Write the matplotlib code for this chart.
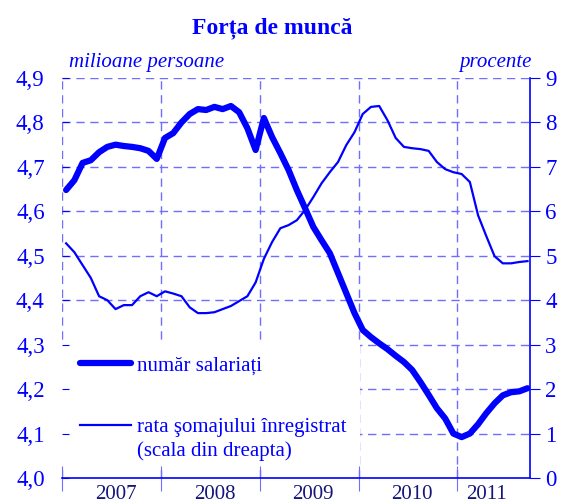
import matplotlib
matplotlib.use("Agg")
import matplotlib.pyplot as plt
import numpy as np
from matplotlib.ticker import FixedLocator, FuncFormatter, NullFormatter
from matplotlib.patches import Rectangle

# Monthly data, Jan 2007 .. Sep 2011
months = np.arange(57)
salariati = [4.648, 4.670, 4.709, 4.715, 4.733, 4.745, 4.750, 4.747, 4.745, 4.742,
             4.736, 4.718, 4.765, 4.776, 4.800, 4.819, 4.830, 4.828, 4.835, 4.830,
             4.837, 4.823, 4.787, 4.738, 4.810, 4.767, 4.731, 4.693, 4.648, 4.607,
             4.565, 4.535, 4.506, 4.461, 4.416, 4.371, 4.333, 4.317, 4.303, 4.290,
             4.275, 4.261, 4.243, 4.216, 4.187, 4.157, 4.134, 4.100, 4.092, 4.100,
             4.121, 4.146, 4.168, 4.186, 4.193, 4.195, 4.202]
somaj = [5.28, 5.08, 4.79, 4.50, 4.09, 4.00, 3.80, 3.89, 3.89, 4.09,
         4.18, 4.09, 4.20, 4.15, 4.09, 3.84, 3.71, 3.71, 3.73, 3.80,
         3.87, 3.98, 4.09, 4.40, 4.93, 5.31, 5.62, 5.69, 5.80, 6.03,
         6.32, 6.63, 6.88, 7.11, 7.49, 7.78, 8.19, 8.35, 8.37, 8.05,
         7.65, 7.45, 7.42, 7.40, 7.36, 7.11, 6.95, 6.88, 6.84, 6.66,
         5.91, 5.44, 4.99, 4.83, 4.83, 4.86, 4.88]
years = ["2007", "2008", "2009", "2010", "2011"]
year_label_pos = [6, 18, 30, 42, 51]
year_bounds = [-0.5, 11.5, 23.5, 35.5, 47.5]
left_ticks = [4.0, 4.1, 4.2, 4.3, 4.4, 4.5, 4.6, 4.7, 4.8, 4.9]
right_ticks = list(range(10))

BLUE = "#0000ff"
GRID = "#6f6fff"
NAVY = "#14147a"
plt.rcParams['font.family'] = ['Liberation Serif', 'DejaVu Serif']

fig = plt.figure(figsize=(5.63, 5.04), dpi=100)
ax = fig.add_axes([62/563, 1-478/504, (530-62)/563, 400/504])
ax2 = ax.twinx()

ax.set_xlim(-0.5, 56.3)
ax.set_ylim(4.0, 4.9)
ax2.set_ylim(0, 9)

# grid
for yv in left_ticks[1:]:
    ax.axhline(yv, color=GRID, lw=1, ls=(0, (6, 4)), zorder=0)
for xb in year_bounds:
    ax.axvline(xb, color=GRID, lw=1, ls=(0, (6, 4)), zorder=0)

# white area behind the legend (hides grid there)
ax.add_patch(Rectangle((0, 0.02), (360-62)/468, (470-340)/400, transform=ax.transAxes,
                       facecolor='white', edgecolor='none', zorder=1))

ln1, = ax.plot(months, salariati, color=BLUE, lw=4.5, solid_capstyle='round', zorder=3,
               label="număr salariați")
ln2, = ax2.plot(months, somaj, color=BLUE, lw=1.6, zorder=3,
                label="rata şomajului înregistrat")

for s in ["top", "left"]:
    ax.spines[s].set_visible(False)
    ax2.spines[s].set_visible(False)
ax.spines["right"].set_visible(False)
ax2.spines["right"].set_color(BLUE)
ax2.spines["right"].set_linewidth(1.2)
ax2.spines["bottom"].set_visible(False)
ax.spines["bottom"].set_color(BLUE)
ax.spines["bottom"].set_linewidth(1.2)

comma = FuncFormatter(lambda v, p: f"{v:.1f}".replace(".", ","))
ax.yaxis.set_major_locator(FixedLocator(left_ticks))
ax.yaxis.set_major_formatter(comma)
ax.tick_params(axis='y', direction='in', length=5, color=BLUE, labelcolor=BLUE,
               labelsize=16.5, pad=12.5)
ax2.yaxis.set_major_locator(FixedLocator(right_ticks))
ax2.tick_params(axis='y', direction='out', length=7, color=BLUE, labelcolor=BLUE,
                labelsize=16.5, pad=4)

ax.xaxis.set_major_locator(FixedLocator(year_bounds))
ax.xaxis.set_major_formatter(NullFormatter())
ax.xaxis.set_minor_locator(FixedLocator(year_label_pos))
ax.xaxis.set_minor_formatter(FuncFormatter(lambda v, p: years[p] if p < len(years) else ""))
ax.tick_params(axis='x', which='major', direction='inout', length=18, color=GRID)
ax.tick_params(axis='x', which='minor', length=0, labelcolor=NAVY, labelsize=15, pad=5)
ax2.set_zorder(ax.get_zorder() + 1)
ax2.patch.set_visible(False)

leg = ax2.legend(handles=[ln1, ln2], loc='upper left',
                 bbox_to_anchor=(80/563, 1-356/504), bbox_transform=fig.transFigure,
                 frameon=False, fontsize=15, labelcolor=BLUE, handlelength=2.45,
                 handletextpad=0.29, labelspacing=2.0, borderpad=0.0, borderaxespad=0.0)
fig.text(137/563, 1-451/504, "(scala din dreapta)", ha='left', va='center', color=BLUE,
         fontsize=15)

fig.text(272/563, 1-28/504, "Forța de muncă", ha='center', va='center', color=BLUE,
         fontsize=17, fontweight='bold')
fig.text(69/563, 1-62/504, "milioane persoane", ha='left', va='center', color=BLUE,
         fontsize=15, style='italic')
fig.text(532/563, 1-62/504, "procente", ha='right', va='center', color=BLUE,
         fontsize=15, style='italic')

fig.savefig("out.png", dpi=100)
